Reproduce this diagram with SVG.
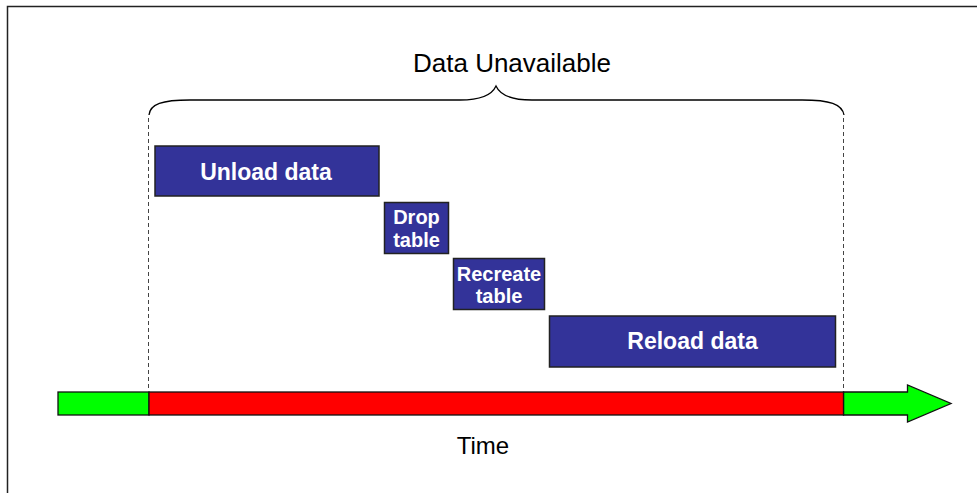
<svg xmlns="http://www.w3.org/2000/svg" width="977" height="493" viewBox="0 0 977 493">
  <style>
    .frame { fill: none; stroke: #222; stroke-width: 1.5; }
    .task rect { fill: #333399; stroke: #222; stroke-width: 1.5; }
    .task text { fill: #ffffff; font-family: "Liberation Sans", Arial, sans-serif; font-weight: bold; text-anchor: middle; }
    .label { fill: #000; font-family: "Liberation Sans", Arial, sans-serif; text-anchor: middle; }
    .guide { fill: none; stroke: #444; stroke-width: 1; stroke-dasharray: 4 3; }
    .brace { fill: none; stroke: #000; stroke-width: 1.3; }
    .bar { stroke: #111; stroke-width: 1.3; }
  </style>

  <rect width="977" height="493" fill="#ffffff"/>
  <!-- outer frame (top and left edges) -->
  <path class="frame" d="M7.5,493 V6.5 H977"/>

  <!-- title and span brace -->
  <g id="title">
    <text class="label" x="512" y="72" font-size="26">Data Unavailable</text>
  </g>
  <g id="brace">
    <path class="brace" d="M149,115 C150,104 162,100 190,100 L460,100 C482,100 492,95 496,86 C500,95 510,100 532,100 L802,100 C830,100 842,104 844,115"/>
  </g>

  <!-- outage boundary guides -->
  <g id="connectors">
    <line class="guide" x1="148.5" y1="118" x2="148.5" y2="391"/>
    <line class="guide" x1="843.5" y1="118" x2="843.5" y2="391"/>
  </g>

  <!-- task steps -->
  <g id="unload" class="task">
    <rect x="155" y="146" width="224" height="50"/>
    <text x="266" y="180" font-size="23">Unload data</text>
  </g>
  <g id="drop" class="task">
    <rect x="384.5" y="202.5" width="64" height="51"/>
    <text x="416.5" y="224" font-size="20">Drop</text>
    <text x="416.5" y="247" font-size="20">table</text>
  </g>
  <g id="recreate" class="task">
    <rect x="453.5" y="258.5" width="91" height="51"/>
    <text x="499" y="281" font-size="20">Recreate</text>
    <text x="499" y="303" font-size="20">table</text>
  </g>
  <g id="reload" class="task">
    <rect x="549.5" y="316" width="286" height="51"/>
    <text x="692.5" y="349" font-size="23">Reload data</text>
  </g>

  <!-- time axis -->
  <g id="timeline">
    <rect class="bar" x="58" y="392" width="91" height="23" fill="#00ff00"/>
    <path class="bar" d="M843.5,392 H907.5 V385 L951,403.5 L907.5,422 V415 H843.5 Z" fill="#00ff00"/>
    <rect class="bar" x="149" y="392" width="694.5" height="23" fill="#ff0000"/>
    <text class="label" x="483" y="454" font-size="24">Time</text>
  </g>
</svg>
